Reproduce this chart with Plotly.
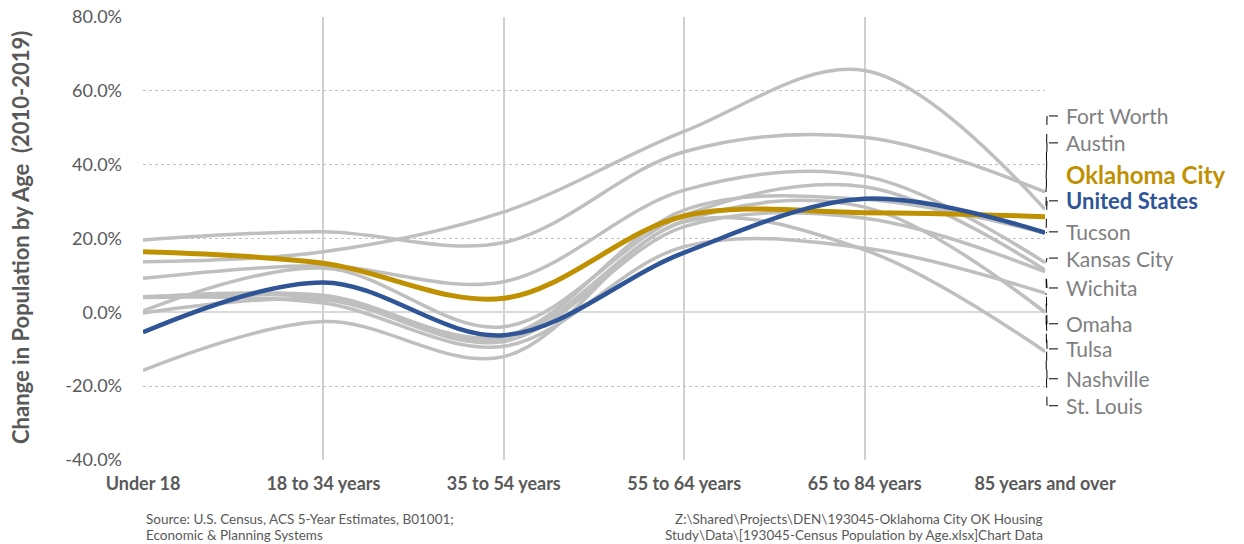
import plotly.graph_objects as go

# Age groups on the category axis
categories = ["Under 18", "18 to 34 years", "35 to 54 years",
              "55 to 64 years", "65 to 84 years", "85 years and over"]

# Change in population by age, 2010-2019 (percent)
fort_worth = [19.6, 21.8, 18.9, 43.5, 47.4, 32.6]
austin = [13.7, 16.4, 27.2, 49.0, 65.5, 27.9]
tucson = [4.0, 4.6, -6.5, 27.7, 30.6, 21.5]
kansas_city = [9.2, 12.6, 8.3, 33.1, 36.9, 13.5]
wichita = [0.4, 12.0, -3.9, 26.3, 34.0, 11.5]
omaha = [-0.2, 3.4, -7.9, 23.2, 25.5, 11.0]
tulsa = [4.0, 2.5, -9.2, 17.8, 17.4, 5.2]
nashville = [4.2, 3.9, -7.0, 24.8, 28.5, 0.0]
st_louis = [-15.7, -2.5, -12.0, 24.5, 16.9, -10.6]
oklahoma_city = [16.4, 13.3, 3.8, 26.1, 27.0, 25.9]
united_states = [-5.4, 8.1, -6.2, 16.2, 30.8, 21.6]

y_ticks = [-40, -20, 0, 20, 40, 60, 80]
y_tick_text = [f"{v:.1f}%" for v in y_ticks]

comparison_cities = [
    ("Fort Worth", fort_worth),
    ("Austin", austin),
    ("Tucson", tucson),
    ("Kansas City", kansas_city),
    ("Wichita", wichita),
    ("Omaha", omaha),
    ("Tulsa", tulsa),
    ("Nashville", nashville),
    ("St. Louis", st_louis),
]

GRAY = "#BFBFBF"
GOLD = "#BF9000"
BLUE = "#2F5597"
TEXT = "#595959"
LABEL_GRAY = "#7F7F7F"
FONT = "Lato"

fig = go.Figure()

for name, vals in comparison_cities:
    fig.add_trace(go.Scatter(
        x=categories, y=vals, name=name, mode="lines",
        line=dict(color=GRAY, width=3.5, shape="spline", smoothing=1.0),
        hoverinfo="name+y",
    ))

fig.add_trace(go.Scatter(
    x=categories, y=oklahoma_city, name="Oklahoma City", mode="lines",
    line=dict(color=GOLD, width=5, shape="spline", smoothing=1.0),
))
fig.add_trace(go.Scatter(
    x=categories, y=united_states, name="United States", mode="lines",
    line=dict(color=BLUE, width=4.5, shape="spline", smoothing=1.0),
))

# Series labels at the right edge, stacked with dashed leader lines
label_slots = {
    "Fort Worth": 53.2, "Austin": 45.9, "Oklahoma City": 37.3,
    "United States": 30.2, "Tucson": 21.8, "Kansas City": 14.7,
    "Wichita": 6.6, "Omaha": -3.1, "Tulsa": -9.9,
    "Nashville": -18.0, "St. Louis": -25.3,
}
end_values = {name: vals[-1] for name, vals in comparison_cities}
end_values["Oklahoma City"] = oklahoma_city[-1]
end_values["United States"] = united_states[-1]

PLOT_L, PLOT_R = 143, 1045
PLOT_T, PLOT_B = 17, 460
PLOT_W = PLOT_R - PLOT_L
PLOT_H = PLOT_B - PLOT_T


def px_to_paper_x(px):
    return (px - PLOT_L) / PLOT_W


def px_to_paper_y(py):
    return (PLOT_B - py) / PLOT_H


for name, slot in label_slots.items():
    if name == "Oklahoma City":
        font = dict(family=FONT, size=24, color=GOLD)
        text = "<b>Oklahoma City</b>"
    elif name == "United States":
        font = dict(family=FONT, size=22, color=BLUE)
        text = "<b>United States</b>"
    else:
        font = dict(family=FONT, size=21, color=LABEL_GRAY)
        text = name
    fig.add_annotation(
        x=px_to_paper_x(1064), xref="paper", y=slot, yref="y",
        text=text, showarrow=False, xanchor="left", yanchor="middle",
        font=font,
    )
    if name == "Oklahoma City":
        continue
    leader = dict(color="black", width=1, dash="dash")
    fig.add_shape(type="line", xref="paper", yref="y",
                  x0=px_to_paper_x(1058), x1=px_to_paper_x(1047),
                  y0=slot, y1=slot, line=leader, layer="above")
    fig.add_shape(type="line", xref="paper", yref="y",
                  x0=px_to_paper_x(1047), x1=px_to_paper_x(1046),
                  y0=slot, y1=end_values[name], line=leader, layer="above")

# Axis title
fig.add_annotation(
    x=px_to_paper_x(20), xref="paper", y=px_to_paper_y(238), yref="paper",
    text="<b>Change in Population by Age  (2010-2019)</b>",
    textangle=-90, showarrow=False, xanchor="center", yanchor="middle",
    font=dict(family=FONT, size=22, color=TEXT),
)

# Source notes, one annotation per line
note_font = dict(family=FONT, size=13.5, color=TEXT)
source_lines = ["Source: U.S. Census, ACS 5-Year Estimates, B01001;",
                "Economic &amp; Planning Systems"]
path_lines = ["Z:\\Shared\\Projects\\DEN\\193045-Oklahoma City OK Housing",
              "Study\\Data\\[193045-Census Population by Age.xlsx]Chart Data"]
for line_text, py in zip(source_lines, [519, 535]):
    fig.add_annotation(
        x=px_to_paper_x(144), xref="paper", y=px_to_paper_y(py), yref="paper",
        text=line_text, showarrow=False, xanchor="left", yanchor="middle",
        font=note_font,
    )
for line_text, py in zip(path_lines, [519, 535]):
    fig.add_annotation(
        x=px_to_paper_x(1045), xref="paper", y=px_to_paper_y(py), yref="paper",
        text=line_text, showarrow=False, xanchor="right", yanchor="middle",
        font=note_font,
    )

fig.update_layout(
    width=1244, height=544,
    margin=dict(l=PLOT_L, r=1244 - PLOT_R, t=PLOT_T, b=544 - PLOT_B,
                autoexpand=False),
    paper_bgcolor="white", plot_bgcolor="white",
    showlegend=False,
    font=dict(family=FONT, color=TEXT),
)

fig.update_xaxes(
    type="category", range=[0, len(categories) - 1], automargin=False,
    showgrid=True, gridcolor="#D0D0D0", gridwidth=1.5,
    showline=False, zeroline=False, ticks="",
    tickfont=dict(family=FONT, size=18, color=TEXT, weight="bold"),
    ticklabelstandoff=11,
)
fig.update_yaxes(
    range=[-40, 80], tickvals=y_ticks, ticktext=y_tick_text, automargin=False,
    showgrid=True, gridcolor="#BFBFBF", gridwidth=1, griddash="dot",
    zeroline=True, zerolinecolor="#D9D9D9", zerolinewidth=2,
    showline=False, ticks="",
    tickfont=dict(family=FONT, size=18, color=TEXT),
    ticklabelstandoff=20,
)

fig.write_html("out.html")
